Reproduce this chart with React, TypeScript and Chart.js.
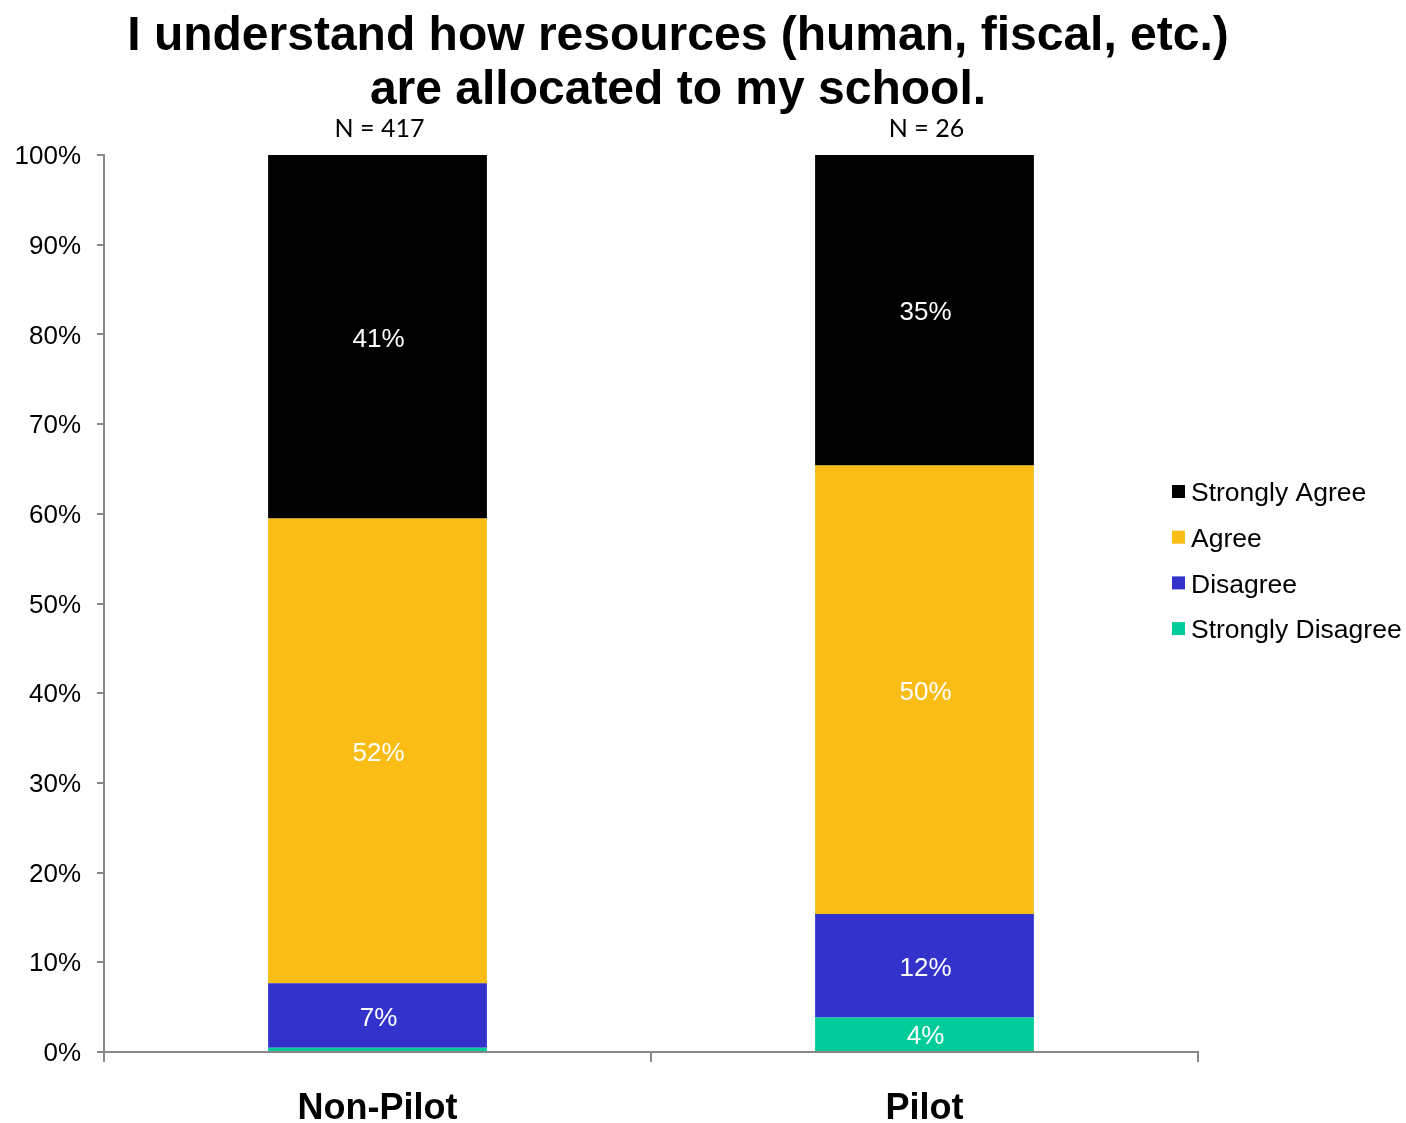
import React, { useEffect, useRef } from "react";
import { Chart, registerables } from "chart.js";

Chart.register(...registerables);

const categories = ["Non-Pilot", "Pilot"];
const sampleSizes = [417, 26];
const seriesNames = ["Strongly Disagree", "Disagree", "Agree", "Strongly Agree"];
const stronglyDisagree = [0.48, 3.85];
const disagree = [7.19, 11.54];
const agree = [51.8, 50.0];
const stronglyAgree = [40.53, 34.61];
const seriesColors = ["#00CC99", "#3333CC", "#F9BD16", "#000000"];
const yTicks = [0, 10, 20, 30, 40, 50, 60, 70, 80, 90, 100];
const titleLines = ["I understand how resources (human, fiscal, etc.)", "are allocated to my school."];

const FONT = "'Liberation Sans', Arial, sans-serif";

export default function App() {
  const ref = useRef<HTMLCanvasElement | null>(null);

  useEffect(() => {
    const canvas = ref.current;
    if (!canvas) return;
    const seriesData = [stronglyDisagree, disagree, agree, stronglyAgree];

    const overlay = {
      id: "overlay",
      afterDatasetsDraw(chart: any) {
        const ctx = chart.ctx;
        ctx.save();
        // bar value labels
        ctx.fillStyle = "#ffffff";
        ctx.font = `26px ${FONT}`;
        ctx.textAlign = "center";
        ctx.textBaseline = "middle";
        chart.data.datasets.forEach((ds: any, di: number) => {
          const meta = chart.getDatasetMeta(di);
          meta.data.forEach((bar: any, i: number) => {
            const v = ds.data[i];
            if (v < 1) return;
            const cy = (bar.y + bar.base) / 2;
            ctx.fillText(Math.round(v) + "%", bar.x + 1, cy + 3);
          });
        });
        // N labels
        ctx.fillStyle = "#000000";
        ctx.font = `25px Lato, 'Open Sans', sans-serif`;
        const xs = chart.scales.x;
        categories.forEach((c, i) => {
          ctx.fillText("N = " + sampleSizes[i], xs.getPixelForValue(i) + 2, 129);
        });
        // title
        ctx.font = `bold 48px ${FONT}`;
        ctx.fillText(titleLines[0], 678, 37);
        ctx.fillText(titleLines[1], 678, 91);
        // legend
        ctx.font = `26.5px ${FONT}`;
        ctx.textAlign = "left";
        const order = [3, 2, 1, 0];
        order.forEach((si, k) => {
          const y = 492 + k * 45.7;
          ctx.fillStyle = seriesColors[si];
          ctx.fillRect(1172, y - 7, 13, 13);
          ctx.fillStyle = "#000000";
          ctx.fillText(seriesNames[si], 1191, y + 2);
        });
        ctx.restore();
      },
    };

    const chart = new Chart(canvas, {
      type: "bar",
      data: {
        labels: categories,
        datasets: seriesNames.map((name, i) => ({
          label: name,
          data: seriesData[i],
          backgroundColor: seriesColors[i],
          borderWidth: 0,
          barPercentage: 0.4,
          categoryPercentage: 1,
        })),
      },
      options: {
        responsive: true,
        maintainAspectRatio: false,
        animation: false,
        layout: { padding: { left: 0, top: 155, right: 208, bottom: 0 } },
        plugins: {
          legend: { display: false },
          title: { display: false },
          tooltip: { enabled: false },
        },
        scales: {
          x: {
            stacked: true,
            offset: true,
            grid: {
              offset: true,
              drawOnChartArea: false,
              drawTicks: true,
              tickLength: 10,
              color: "#888888",
              lineWidth: 2,
            },
            border: { display: true, color: "#888888", width: 2 },
            ticks: {
              color: "#000000",
              font: { family: FONT, size: 36, weight: "bold" },
              padding: 25,
            },
            afterFit(scale: any) {
              scale.height = 71;
            },
          },
          y: {
            stacked: true,
            min: 0,
            max: 100,
            afterBuildTicks(scale: any) {
              scale.ticks = yTicks.map((v) => ({ value: v }));
            },
            grid: {
              drawOnChartArea: false,
              drawTicks: true,
              tickLength: 7,
              color: "#888888",
              lineWidth: 2,
            },
            border: { display: true, color: "#888888", width: 2 },
            ticks: {
              color: "#000000",
              font: { family: FONT, size: 26 },
              padding: 16,
              labelOffset: 2,
              callback: (v: any) => v + "%",
            },
            afterFit(scale: any) {
              scale.width = 104;
            },
          },
        },
      },
      plugins: [overlay],
    });
    return () => chart.destroy();
  }, []);

  return (
    <div style={{ position: "absolute", left: 0, top: 0, width: 1406, height: 1123, background: "#fff" }}>
      <canvas ref={ref} />
    </div>
  );
}
